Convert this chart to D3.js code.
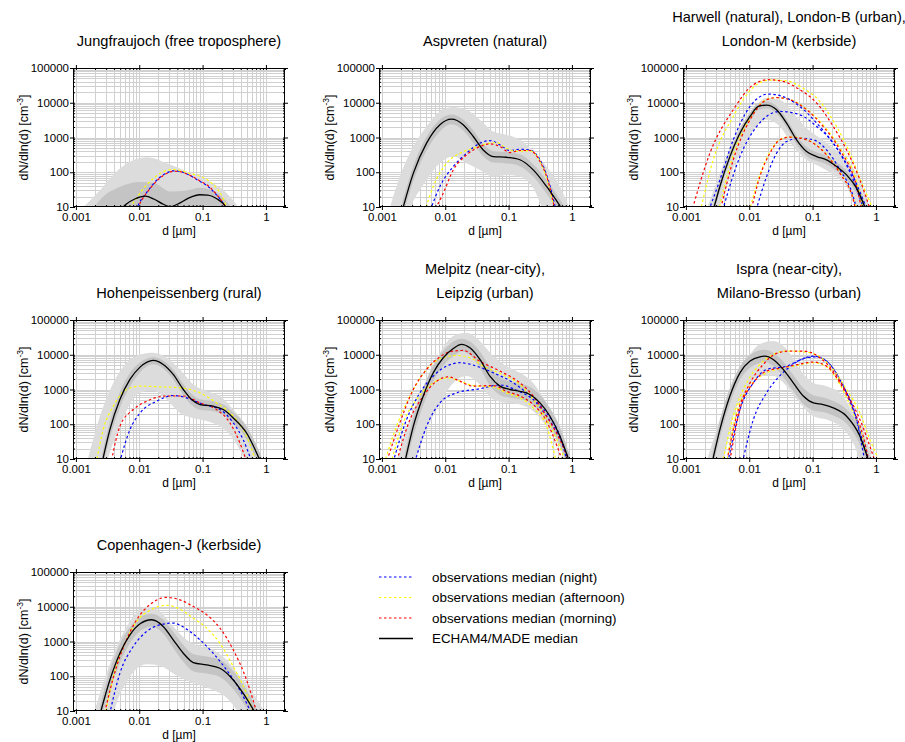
<!DOCTYPE html>
<html><head><meta charset="utf-8">
<script src="https://cdn.jsdelivr.net/npm/d3@7"></script>
<style>
body{margin:0;background:#fff}
text{font-family:"Liberation Sans",Arial,Helvetica,sans-serif;fill:#000}
</style>
</head><body>
<svg id="c" width="905" height="742"></svg>
<script>
// ---------- axis ticks ----------
const xTickValues = [0.001, 0.01, 0.1, 1];
const xTickLabels = ["0.001", "0.01", "0.1", "1"];
const yTickValues = [10, 100, 1000, 10000, 100000];
const yTickLabels = ["10", "100", "1000", "10000", "100000"];

// ---------- Jungfraujoch ----------
const jfjModel = [[0.0050,8],[0.0062,12],[0.0085,17],[0.0125,20.5],[0.017,17],[0.024,12],[0.031,10.2],[0.040,12],[0.06,18],[0.09,22.5],[0.12,22],[0.17,17],[0.22,11.5],[0.25,8]];
const jfjNight = [[0.0088,8],[0.0105,15],[0.0135,28],[0.019,60],[0.026,92],[0.035,110],[0.045,105],[0.06,85],[0.09,55],[0.12,40],[0.16,24],[0.21,13],[0.245,8]];
const jfjAfternoon = [[0.0065,8],[0.008,13],[0.011,30],[0.016,62],[0.023,100],[0.033,120],[0.045,112],[0.06,95],[0.09,78],[0.12,60],[0.16,38],[0.21,18],[0.25,8]];
const jfjMorning = [[0.009,8],[0.011,16],[0.014,30],[0.02,62],[0.027,92],[0.036,107],[0.046,102],[0.06,85],[0.09,57],[0.12,42],[0.16,25],[0.21,13],[0.245,8]];
const jfjOuter = [[0.00117,2,8],[0.00242,2,31],[0.005,2,130],[0.0132,2,270],[0.0272,2,182],[0.0565,2,105],[0.117,2,60],[0.24,2,25],[0.4,2,8]];
const jfjInner = [[0.0018,2,8],[0.0024,2,16],[0.005,2,38],[0.0103,2,52],[0.0166,2,50],[0.031,2,28],[0.0565,2,30],[0.091,2,36],[0.167,2,26],[0.31,2,8]];

// ---------- Aspvreten ----------
const aspModel = [[0.0021,8],[0.00313,93],[0.00507,690],[0.00824,2340],[0.0126,3390],[0.0192,2340],[0.0277,1070],[0.0398,437],[0.0573,282],[0.0933,270],[0.151,229],[0.245,117],[0.398,39],[0.72,8]];
const aspNight = [[0.0058,8],[0.00824,39],[0.0134,146],[0.0217,353],[0.0352,687],[0.0507,818],[0.073,614],[0.105,422],[0.151,460],[0.217,440],[0.313,227],[0.423,60],[0.56,8]];
const aspAfternoon = [[0.0048,8],[0.00647,39],[0.0105,182],[0.017,353],[0.0277,490],[0.045,656],[0.0647,718],[0.093,490],[0.134,398],[0.217,415],[0.313,204],[0.423,48],[0.53,8]];
const aspMorning = [[0.0068,8],[0.0093,25],[0.0134,117],[0.0217,316],[0.0352,550],[0.0507,656],[0.073,550],[0.105,369],[0.151,422],[0.217,422],[0.313,204],[0.423,54],[0.54,8]];
const aspOuter = [[0.0013,2,8],[0.00192,2,75],[0.00313,15,550],[0.00507,60,2070],[0.00824,182,5620],[0.0134,282,7500],[0.0217,182,6300],[0.0352,117,3240],[0.0573,75,1490],[0.093,84,1190],[0.151,75,855],[0.245,35,398],[0.398,5,145],[0.647,2,39],[0.95,2,8]];
const aspInner = [[0.0021,5,14],[0.00313,55,150],[0.00507,420,1050],[0.00824,1500,3300],[0.0126,2400,4600],[0.0192,1600,3300],[0.0277,700,1600],[0.0398,290,650],[0.0573,190,400],[0.0933,180,380],[0.151,150,330],[0.245,75,170],[0.398,24,60],[0.72,5,12]];

// ---------- Harwell / London-B / London-M ----------
const lonModel = [[0.0027,8],[0.00344,39],[0.00495,282],[0.00713,1330],[0.0103,4030],[0.0139,7830],[0.0188,8570],[0.027,6300],[0.0389,2590],[0.0559,857],[0.0804,394],[0.116,283],[0.166,227],[0.239,146],[0.344,84],[0.495,35],[0.7,8]];
const harNight = [[0.0128,8],[0.0188,75],[0.027,353],[0.0389,767],[0.063,960],[0.103,857],[0.166,440],[0.27,117],[0.438,20],[0.5,8]];
const harAfternoon = [[0.0101,8],[0.0147,85],[0.0212,380],[0.0305,880],[0.0438,1030],[0.063,980],[0.103,700],[0.166,330],[0.27,100],[0.438,18],[0.5,8]];
const harMorning = [[0.0107,8],[0.0147,75],[0.0212,353],[0.0305,857],[0.0438,1020],[0.063,960],[0.103,687],[0.166,316],[0.27,93],[0.438,16],[0.48,8]];
const lonbNight = [[0.0038,8],[0.00713,282],[0.0131,2070],[0.0305,5620],[0.063,4500],[0.116,2070],[0.212,687],[0.438,60],[0.65,8]];
const lonbAfternoon = [[0.0033,8],[0.0054,260],[0.0103,3500],[0.0188,12500],[0.027,14000],[0.0437,12500],[0.0804,6600],[0.147,2300],[0.27,500],[0.52,40],[0.63,8]];
const lonbMorning = [[0.0035,8],[0.00559,227],[0.0103,3240],[0.0188,12200],[0.027,14100],[0.0437,12200],[0.0804,6300],[0.147,2070],[0.27,440],[0.495,39],[0.6,8]];
const lonmNight = [[0.0023,8],[0.00344,60],[0.00559,857],[0.0103,7830],[0.02,17800],[0.0344,15000],[0.063,7830],[0.116,2590],[0.212,687],[0.438,75],[0.73,8]];
const lonmAfternoon = [[0.0017,8],[0.0027,227],[0.00559,4030],[0.0116,28000],[0.0212,45000],[0.0389,42500],[0.0713,26000],[0.13,11000],[0.239,2070],[0.388,353],[0.63,39],[0.92,8]];
const lonmMorning = [[0.00125,8],[0.00239,353],[0.00559,6300],[0.0116,33000],[0.02,46000],[0.0344,41000],[0.063,23700],[0.116,9800],[0.212,2070],[0.344,440],[0.559,60],[0.82,8]];
const lonOuter = [[0.0021,2,8],[0.00344,11,93],[0.00559,130,857],[0.0103,1200,5000],[0.0188,3240,13600],[0.0305,2070,12200],[0.0496,550,5000],[0.0804,227,1860],[0.13,146,960],[0.212,84,490],[0.344,39,227],[0.559,5,60],[0.82,2,8]];
const lonInner = [[0.0027,6,11],[0.00344,28,55],[0.00495,210,380],[0.00713,1000,1750],[0.0103,3100,5200],[0.0139,6200,9800],[0.0188,6800,10800],[0.027,4900,8000],[0.0389,1950,3400],[0.0559,640,1150],[0.0804,290,530],[0.116,215,370],[0.166,170,300],[0.239,110,195],[0.344,62,112],[0.495,25,48],[0.7,6,11]];

// ---------- Hohenpeissenberg ----------
const hohModel = [[0.0026,8],[0.00344,70],[0.00495,513],[0.00713,1950],[0.0103,4400],[0.0166,6870],[0.0239,5250],[0.0344,2710],[0.0496,1000],[0.067,513],[0.0908,369],[0.147,331],[0.212,265],[0.305,152],[0.495,56],[0.83,8]];
const hohNight = [[0.0049,8],[0.00713,70],[0.0103,212],[0.0188,460],[0.0344,671],[0.0559,575],[0.103,369],[0.188,265],[0.305,110],[0.438,36],[0.6,8]];
const hohAfternoon = [[0.0021,8],[0.0027,70],[0.00389,331],[0.0063,1000],[0.0103,1250],[0.0212,1190],[0.0438,1120],[0.0908,800],[0.166,412],[0.305,170],[0.495,45],[0.7,8]];
const hohMorning = [[0.0036,8],[0.00495,87],[0.00804,265],[0.0131,460],[0.027,650],[0.0496,650],[0.0908,412],[0.166,265],[0.27,110],[0.388,29],[0.5,8]];
const hohOuter = [[0.0015,2,8],[0.00239,3,170],[0.00389,30,1550],[0.0063,250,5900],[0.0103,800,10200],[0.0166,950,11500],[0.027,513,8200],[0.0438,212,3780],[0.0713,150,1390],[0.116,125,890],[0.188,87,650],[0.305,38,265],[0.495,8,87],[0.93,2,8]];
const hohInner = [[0.0026,5,14],[0.00344,40,120],[0.00495,300,850],[0.00713,1200,3000],[0.0103,3100,6000],[0.0166,5300,8500],[0.0239,4000,6800],[0.0344,1950,3700],[0.0496,700,1450],[0.067,360,750],[0.0908,260,520],[0.147,235,460],[0.212,185,370],[0.305,105,220],[0.495,37,85],[0.83,5,13]];

// ---------- Melpitz / Leipzig ----------
const melModel = [[0.0023,8],[0.00313,87],[0.0045,650],[0.00647,3020],[0.0093,8200],[0.0134,15100],[0.0181,19900],[0.0245,15800],[0.0352,7330],[0.0507,2430],[0.073,1250],[0.105,1000],[0.151,890],[0.217,718],[0.313,412],[0.45,170],[0.647,45],[0.92,8]];
const melNight = [[0.0033,8],[0.00507,87],[0.00824,412],[0.0151,800],[0.0352,1050],[0.073,1350],[0.134,950],[0.245,513],[0.398,212],[0.647,45],[0.85,8]];
const melAfternoon = [[0.0014,8],[0.00217,110],[0.00352,513],[0.00647,1550],[0.0111,2170],[0.017,1740],[0.0277,1300],[0.0573,1190],[0.093,800],[0.151,575],[0.245,295],[0.398,87],[0.57,8]];
const melMorning = [[0.0017,8],[0.00277,136],[0.0045,650],[0.0073,1740],[0.0111,2320],[0.017,1740],[0.0277,1250],[0.0573,1300],[0.093,890],[0.151,650],[0.245,369],[0.398,122],[0.608,19],[0.72,8]];
const leiNight = [[0.0015,8],[0.00245,136],[0.00398,800],[0.00647,2430],[0.0105,4700],[0.017,5900],[0.0313,4700],[0.0573,3020],[0.119,1550],[0.217,650],[0.398,170],[0.647,40],[0.92,8]];
const leiAfternoon = [[0.0011,8],[0.0017,87],[0.00277,650],[0.00507,3780],[0.00824,7670],[0.0151,9550],[0.0245,8200],[0.0398,4700],[0.073,2900],[0.151,1390],[0.245,513],[0.398,136],[0.608,29],[0.8,8]];
const leiMorning = [[0.00118,8],[0.00192,110],[0.00313,1000],[0.00507,3780],[0.00824,8700],[0.0134,12800],[0.0192,13300],[0.0352,6500],[0.073,3390],[0.151,1550],[0.245,650],[0.398,170],[0.647,36],[0.92,8]];
const melOuter = [[0.0017,2,8],[0.00277,4,136],[0.00507,70,1950],[0.00824,412,11500],[0.0134,1550,34700],[0.0217,2430,43000],[0.0352,1390,24800],[0.0573,513,9100],[0.093,412,4700],[0.151,369,3020],[0.245,237,1550],[0.398,87,412],[0.647,23,87],[0.98,2,8]];
const melInner = [[0.0023,5,14],[0.00313,45,160],[0.0045,350,1150],[0.00647,1700,5000],[0.0093,4800,13000],[0.0134,9000,24000],[0.0181,12500,29000],[0.0245,10000,24000],[0.0352,4200,12500],[0.0507,1300,4500],[0.073,700,2200],[0.105,580,1700],[0.151,520,1500],[0.217,420,1200],[0.313,230,700],[0.45,95,290],[0.647,24,80],[0.92,5,13]];

// ---------- Ispra / Milano-Bresso ----------
const ispModel = [[0.0026,8],[0.00344,70],[0.00495,650],[0.00713,3020],[0.0103,6560],[0.0147,8700],[0.0177,9120],[0.0239,7330],[0.0344,3780],[0.0496,1550],[0.0713,650],[0.103,412],[0.147,369],[0.212,295],[0.344,170],[0.559,45],[0.78,8]];
const ispNight = [[0.0078,8],[0.0116,136],[0.0188,800],[0.0389,3780],[0.0804,8200],[0.116,8700],[0.188,5250],[0.305,1250],[0.495,136],[0.67,8]];
const ispAfternoon = [[0.0044,8],[0.0063,212],[0.0103,1250],[0.0188,3020],[0.0305,3980],[0.0496,4700],[0.103,5900],[0.166,4500],[0.27,1390],[0.438,212],[0.63,36],[0.75,8]];
const ispMorning = [[0.0049,8],[0.00713,265],[0.0116,1550],[0.0188,3390],[0.0305,4120],[0.0496,4900],[0.103,6170],[0.166,4700],[0.27,1550],[0.438,265],[0.63,45],[0.78,8]];
const milNight = [[0.0046,8],[0.00713,265],[0.0116,1550],[0.0188,3780],[0.0389,4700],[0.063,7010],[0.103,9120],[0.166,6560],[0.27,1950],[0.438,265],[0.63,29],[0.78,8]];
const milAfternoon = [[0.0038,8],[0.00559,170],[0.0091,1550],[0.0147,5250],[0.0239,10200],[0.0389,12800],[0.0804,11900],[0.13,8700],[0.212,3780],[0.344,1000],[0.559,212],[0.804,36],[1.16,8]];
const milMorning = [[0.0044,8],[0.0063,170],[0.0103,1550],[0.0166,5250],[0.027,11000],[0.0438,12800],[0.0804,12500],[0.13,8200],[0.212,3390],[0.344,800],[0.559,136],[0.804,23],[0.98,8]];
const ispOuter = [[0.0021,2,8],[0.00344,4,136],[0.00559,170,1550],[0.0091,1000,7330],[0.0147,2430,20000],[0.0239,2430,24800],[0.0389,1250,14300],[0.063,412,3780],[0.103,170,1550],[0.166,136,1250],[0.27,87,800],[0.438,29,212],[0.71,3,36],[0.9,2,8]];
const ispInner = [[0.0026,5,14],[0.00344,40,130],[0.00495,380,1100],[0.00713,1900,4600],[0.0103,4200,9800],[0.0147,5800,13500],[0.0177,6200,14000],[0.0239,4800,11500],[0.0344,2300,6300],[0.0496,900,2600],[0.0713,380,1100],[0.103,250,680],[0.147,225,590],[0.212,180,470],[0.344,105,270],[0.559,26,75],[0.78,5,13]];

// ---------- Copenhagen-J ----------
const copModel = [[0.0024,8],[0.00344,78],[0.00495,460],[0.00713,1550],[0.0103,3240],[0.0157,4220],[0.0239,2710],[0.0344,1120],[0.0496,460],[0.0713,248],[0.116,212],[0.188,170],[0.305,78],[0.438,32],[0.7,8]];
const copNight = [[0.0034,8],[0.00495,122],[0.00804,718],[0.0131,1950],[0.0212,3020],[0.0344,3390],[0.0559,2270],[0.0908,1120],[0.147,460],[0.239,152],[0.388,40],[0.6,8]];
const copAfternoon = [[0.0029,8],[0.00438,212],[0.0063,1120],[0.0091,3780],[0.0147,7830],[0.027,11000],[0.0438,8570],[0.0713,4700],[0.116,2430],[0.188,890],[0.305,190],[0.495,32],[0.65,8]];
const copMorning = [[0.0028,8],[0.00438,190],[0.0063,1120],[0.0091,4220],[0.0147,11500],[0.027,18600],[0.0438,15800],[0.0713,10200],[0.116,5900],[0.188,2430],[0.305,575],[0.495,78],[0.73,8]];
const copOuter = [[0.0019,2,8],[0.00305,3,122],[0.00495,30,1120],[0.00804,130,5250],[0.0131,220,10200],[0.0212,200,7330],[0.0344,120,2710],[0.0559,75,1120],[0.0908,55,718],[0.147,40,575],[0.239,24,295],[0.388,8,98],[0.63,2,32],[1.0,2,8]];
const copInner = [[0.0024,5,14],[0.00344,40,150],[0.00495,240,850],[0.00713,900,2600],[0.0103,2000,5000],[0.0157,2700,6300],[0.0239,1700,4300],[0.0344,650,1900],[0.0496,260,800],[0.0713,140,430],[0.116,120,370],[0.188,95,300],[0.305,42,140],[0.438,17,58],[0.7,5,13]];

// ---------- legend ----------
const legendLabels = ["observations median (night)", "observations median (afternoon)", "observations median (morning)", "ECHAM4/MADE median"];
const legendColors = ["#0000ff", "#ffff00", "#ff0000", "#000000"];

const BLUE = "#0000ff", YELLOW = "#ffff00", RED = "#ff0000";
const panels = [
  {col:0,row:0,title:["Jungfraujoch (free troposphere)"],model:jfjModel,outer:jfjOuter,inner:jfjInner,
   obs:[[jfjNight,BLUE],[jfjAfternoon,YELLOW],[jfjMorning,RED]]},
  {col:1,row:0,title:["Aspvreten (natural)"],model:aspModel,outer:aspOuter,inner:aspInner,
   obs:[[aspNight,BLUE],[aspAfternoon,YELLOW],[aspMorning,RED]]},
  {col:2,row:0,title:["Harwell (natural), London-B (urban),","London-M (kerbside)"],model:lonModel,outer:lonOuter,inner:lonInner,
   obs:[[harNight,BLUE],[harAfternoon,YELLOW],[harMorning,RED],[lonbNight,BLUE],[lonbAfternoon,YELLOW],[lonbMorning,RED],[lonmNight,BLUE],[lonmAfternoon,YELLOW],[lonmMorning,RED]]},
  {col:0,row:1,title:["Hohenpeissenberg (rural)"],model:hohModel,outer:hohOuter,inner:hohInner,
   obs:[[hohNight,BLUE],[hohAfternoon,YELLOW],[hohMorning,RED]]},
  {col:1,row:1,title:["Melpitz (near-city),","Leipzig (urban)"],model:melModel,outer:melOuter,inner:melInner,
   obs:[[melNight,BLUE],[melAfternoon,YELLOW],[melMorning,RED],[leiNight,BLUE],[leiAfternoon,YELLOW],[leiMorning,RED]]},
  {col:2,row:1,title:["Ispra (near-city),","Milano-Bresso (urban)"],model:ispModel,outer:ispOuter,inner:ispInner,
   obs:[[ispNight,BLUE],[ispAfternoon,YELLOW],[ispMorning,RED],[milNight,BLUE],[milAfternoon,YELLOW],[milMorning,RED]]},
  {col:0,row:2,title:["Copenhagen-J (kerbside)"],model:copModel,outer:copOuter,inner:copInner,
   obs:[[copNight,BLUE],[copAfternoon,YELLOW],[copMorning,RED]]}
];

// ---------- drawing ----------
const LEFT = [73, 379, 683], TOP = [68, 320, 572], PW = 212, PH = 139;
const svg = d3.select("#c");
const x = d3.scaleLog().domain([0.0009, 2]).range([0, PW]);
const y = d3.scaleLog().domain([10, 100000]).range([PH, 0]);
const xGrid = x.ticks(10);
const yGrid = y.ticks(10);

const line = d3.line().x(d => x(d[0])).y(d => y(d[1])).curve(d3.curveMonotoneX);
const area = d3.area().x(d => x(d[0])).y0(d => y(d[1])).y1(d => y(d[2])).curve(d3.curveMonotoneX);

panels.forEach((p, i) => {
  const L = LEFT[p.col], T = TOP[p.row];
  const g = svg.append("g").attr("transform", `translate(${L},${T})`);
  const cid = "clip" + i;
  g.append("clipPath").attr("id", cid).append("rect").attr("width", PW).attr("height", PH);
  const plot = g.append("g").attr("clip-path", `url(#${cid})`);

  // grid
  plot.selectAll(".vg").data(xGrid).join("line")
    .attr("x1", d => Math.round(x(d)) + 0.5).attr("x2", d => Math.round(x(d)) + 0.5)
    .attr("y1", 0).attr("y2", PH).attr("stroke", "#d0d0d0").attr("stroke-width", 1);
  plot.selectAll(".hg").data(yGrid).join("line")
    .attr("y1", d => Math.round(y(d)) + 0.5).attr("y2", d => Math.round(y(d)) + 0.5)
    .attr("x1", 0).attr("x2", PW).attr("stroke", "#d0d0d0").attr("stroke-width", 1);

  // bands
  plot.append("path").attr("d", area(p.outer)).attr("fill", "#dcdcdc");
  plot.append("path").attr("d", area(p.inner)).attr("fill", "#c4c4c4");

  // observations
  p.obs.forEach(([data, col], k) => {
    plot.append("path").attr("d", line(data)).attr("fill", "none")
      .attr("stroke", col).attr("stroke-width", 1.2)
      .attr("stroke-dasharray", "2.5,2.5").attr("stroke-dashoffset", (k % 3) * 1.5);
  });
  // model
  plot.append("path").attr("d", line(p.model)).attr("fill", "none")
    .attr("stroke", "#000").attr("stroke-width", 1.3);

  // axes: minor inward ticks
  const axL = g.append("g").call(d3.axisLeft(y).tickValues(yGrid).tickSize(-2).tickFormat(""));
  const axR = g.append("g").attr("transform", `translate(${PW},0)`).call(d3.axisRight(y).tickValues(yGrid).tickSize(-2).tickFormat(""));
  const axT = g.append("g").call(d3.axisTop(x).tickValues(xGrid).tickSize(-2).tickFormat(""));
  const axB = g.append("g").attr("transform", `translate(0,${PH})`).call(d3.axisBottom(x).tickValues(xGrid).tickSize(-2).tickFormat(""));
  // major ticks with labels
  const mL = g.append("g").call(d3.axisLeft(y).tickValues(yTickValues).tickSize(3).tickPadding(1)
    .tickFormat((d, j) => yTickLabels[j]));
  const mR = g.append("g").attr("transform", `translate(${PW},0)`).call(d3.axisRight(y).tickValues(yTickValues).tickSize(3).tickFormat(""));
  const mT = g.append("g").call(d3.axisTop(x).tickValues(xTickValues).tickSize(3).tickFormat(""));
  const mB = g.append("g").attr("transform", `translate(0,${PH})`).call(d3.axisBottom(x).tickValues(xTickValues).tickSize(3).tickPadding(3)
    .tickFormat((d, j) => xTickLabels[j]));
  [axL, axR, axT, axB, mL, mR, mT, mB].forEach(a => {
    a.select(".domain").remove();
    a.selectAll("line").attr("stroke", "#000");
    a.selectAll("text").attr("font-family", null).style("font-size", "11.5px").style("fill", "#000");
  });
  // frame
  g.append("rect").attr("x", 0.5).attr("y", 0.5).attr("width", PW - 1).attr("height", PH - 1)
    .attr("fill", "none").attr("stroke", "#000").attr("stroke-width", 1);

  // titles
  const cx = L + PW / 2;
  p.title.forEach((t, j) => {
    const n = p.title.length;
    svg.append("text").attr("x", cx).attr("y", T - 22 - (n - 1 - j) * 24)
      .attr("text-anchor", "middle").style("font-size", "14.6px").text(t);
  });
  // x label
  svg.append("text").attr("x", cx).attr("y", T + PH + 28).attr("text-anchor", "middle")
    .style("font-size", "12px").text("d [µm]");
  // y label
  const yl = svg.append("text").attr("transform", `translate(${L - 45},${T + PH / 2}) rotate(-90)`)
    .attr("text-anchor", "middle").style("font-size", "12.5px");
  yl.append("tspan").text("dN/dln(d) [cm");
  yl.append("tspan").attr("dy", -5).style("font-size", "8.5px").text("-3");
  yl.append("tspan").attr("dy", 5).text("]");
});

// legend
legendLabels.forEach((lab, i) => {
  const by = 581.5 + i * 20.5;
  svg.append("line").attr("x1", 379).attr("x2", 413).attr("y1", by - 4.5).attr("y2", by - 4.5)
    .attr("stroke", legendColors[i]).attr("stroke-width", i === 3 ? 1.3 : 1.2)
    .attr("stroke-dasharray", i === 3 ? null : "2.5,2.5");
  svg.append("text").attr("x", 432).attr("y", by).style("font-size", "13.4px").text(lab);
});
</script>
</body></html>
